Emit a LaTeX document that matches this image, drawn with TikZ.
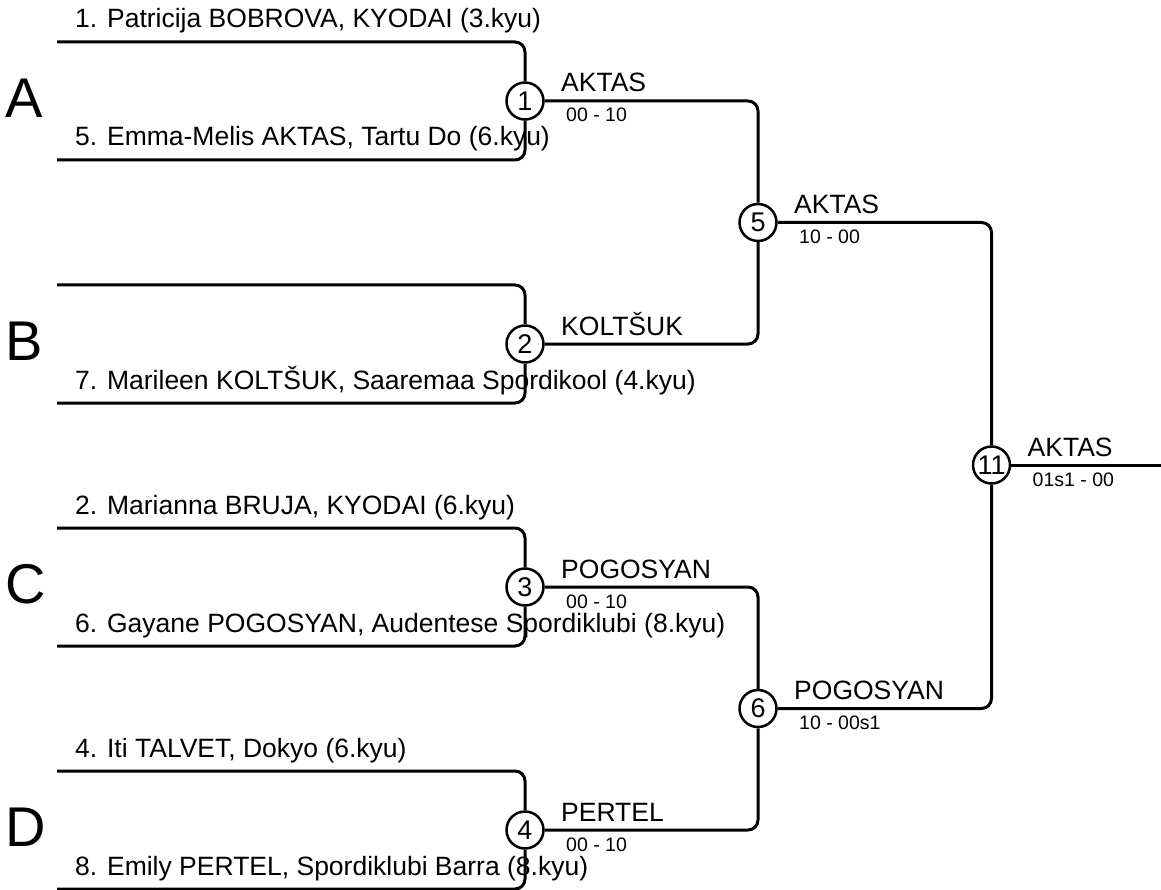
\documentclass[tikz,border=0pt]{standalone}
\usepackage{fontspec}
\setmainfont{Liberation Sans}
\begin{document}
\begin{tikzpicture}[x=1pt, y=-1pt,
    bout/.style={draw, circle, line width=2.5pt, minimum size=37pt, inner sep=0pt,
                 font=\fontsize{27}{27}\selectfont},
    entrant/.style={anchor=base west, inner sep=0pt, font=\fontsize{26.5}{30}\selectfont},
    winner/.style={anchor=base west, inner sep=0pt, font=\fontsize{26.5}{30}\selectfont},
    score/.style={anchor=base west, inner sep=0pt, font=\fontsize{19.5}{22}\selectfont},
    pool/.style={anchor=west, inner sep=0pt, font=\fontsize{56}{60}\selectfont},
    wire/.style={line width=3pt, rounded corners=10pt}]
    \useasboundingbox (0,0) rectangle (1161,890);

    % First round, one pool each
    \foreach \n/\y/\pl in {1/101/A, 2/344/B, 3/587/C, 4/830/D} {
        \node[bout] (m\n) at (525,\y) {\n};
        \node[pool] (pool\pl) at (5,\y-3) {\pl};
        \coordinate (e\n t) at (57,\y-59);
        \coordinate (e\n b) at (57,\y+59);
        \draw[wire] (e\n t) -| (m\n);
        \draw[wire] (e\n b) -| (m\n);
    }

    % Entrants
    \foreach \e/\txt in {1t/{1. Patricija BOBROVA, KYODAI (3.kyu)},
                        1b/{5. Emma-Melis AKTAS, Tartu Do (6.kyu)},
                        2b/{7. Marileen KOLTŠUK, Saaremaa Spordikool (4.kyu)},
                        3t/{2. Marianna BRUJA, KYODAI (6.kyu)},
                        3b/{6. Gayane POGOSYAN, Audentese Spordiklubi (8.kyu)},
                        4t/{4. Iti TALVET, Dokyo (6.kyu)},
                        4b/{8. Emily PERTEL, Spordiklubi Barra (8.kyu)}} {
        \node[entrant] (n\e) at ([xshift=18pt, yshift=14pt]e\e) {\txt};
    }

    % Semi-finals and final
    \node[bout] (m5) at (758,222.5) {5};
    \node[bout] (m6) at (758,708.5) {6};
    \node[bout] (m11) at (991.5,465) {11};
    \coordinate (out) at (1161,465);

    \draw[wire] (m1) -| (m5);
    \draw[wire] (m2) -| (m5);
    \draw[wire] (m3) -| (m6);
    \draw[wire] (m4) -| (m6);
    \draw[wire] (m5) -| (m11);
    \draw[wire] (m6) -| (m11);
    \draw[wire] (m11) -- (out);

    % Winners and scores
    \foreach \m/\w/\s in {1/AKTAS/00 - 10, 2/KOLTŠUK/, 3/POGOSYAN/00 - 10,
                          4/PERTEL/00 - 10, 5/AKTAS/10 - 00,
                          6/POGOSYAN/10 - 00s1, 11/AKTAS/01s1 - 00} {
        \node[winner] (w\m) at ([xshift=36pt, yshift=9pt]m\m.center) {\w};
        \node[score] (s\m) at ([xshift=41pt, yshift=-21pt]m\m.center) {\s};
    }
\end{tikzpicture}
\end{document}
